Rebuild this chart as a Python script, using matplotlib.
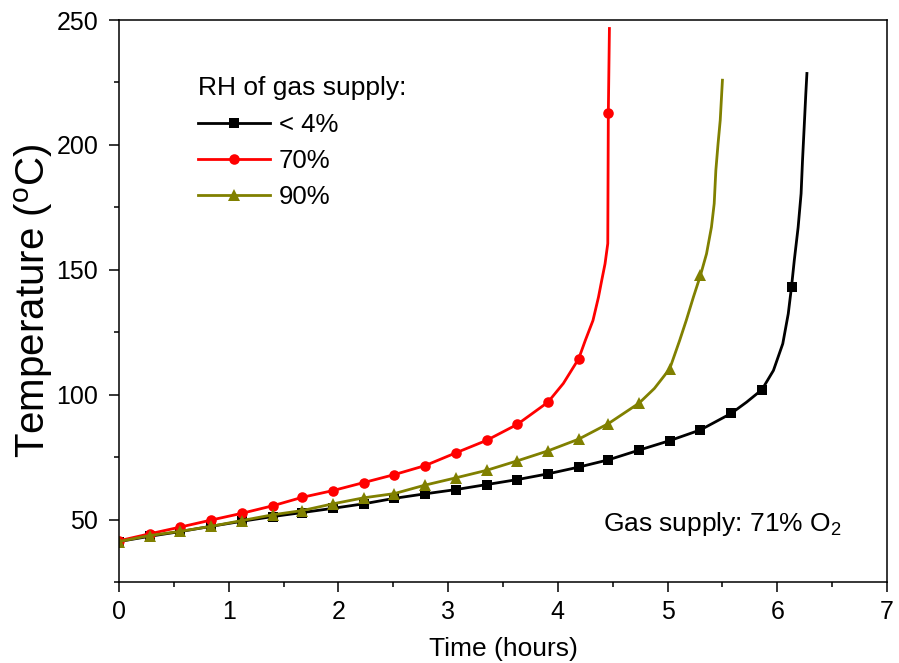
import numpy as np
import matplotlib
matplotlib.use("Agg")
import matplotlib.pyplot as plt
from matplotlib.ticker import MultipleLocator

plt.rcParams["font.family"] = ["Liberation Sans", "DejaVu Sans"]
plt.rcParams["mathtext.fontset"] = "custom"
plt.rcParams["mathtext.rm"] = "Liberation Sans"
plt.rcParams["mathtext.it"] = "Liberation Sans"
plt.rcParams["mathtext.bf"] = "Liberation Sans"

# Sampling times of the plotted symbols (hours)
time_marks = [0.00, 0.28, 0.56, 0.84, 1.12, 1.40, 1.67, 1.95, 2.23, 2.51,
              2.79, 3.07, 3.35, 3.63, 3.91, 4.19, 4.46, 4.74, 5.02, 5.30,
              5.58, 5.86, 6.13]

# Temperature at the symbol times (deg C)
temp_dry = [41.2, 43.3, 45.2, 47.3, 49.3, 51.2, 52.8, 54.5, 56.3, 58.5,
            60.3, 62.0, 64.0, 66.0, 68.3, 71.0, 73.9, 77.8, 81.6, 85.9,
            92.5, 102.0, 143.3]
temp_rh70 = [41.5, 44.3, 47.0, 49.8, 52.5, 55.5, 58.9, 61.6, 64.8, 68.0,
             71.6, 76.7, 81.7, 88.1, 97.0, 114.4, 212.9]
temp_rh90 = [41.2, 43.6, 45.3, 47.3, 49.6, 51.9, 53.6, 56.3, 58.7, 60.4,
             63.8, 66.7, 69.7, 73.5, 77.5, 82.2, 88.4, 96.6, 110.4, 147.8]

# Additional recorded points between symbols (thermal runaway region)
extra_dry_t = [5.72, 5.965, 6.05, 6.10, 6.155, 6.19, 6.217, 6.23, 6.245,
               6.26, 6.27]
extra_dry_T = [97.0, 109.7, 120.4, 132.4, 153.8, 167.0, 180.5, 193.8,
               207.0, 220.5, 228.6]
extra_rh70_t = [4.05, 4.25, 4.32, 4.37, 4.40, 4.43, 4.455, 4.47]
extra_rh70_T = [104.5, 121.7, 129.7, 139.0, 145.8, 152.4, 160.5, 246.6]
extra_rh90_t = [4.88, 5.11, 5.17, 5.235, 5.355, 5.40, 5.425, 5.44, 5.46,
                5.48, 5.50]
extra_rh90_T = [102.5, 121.7, 129.7, 139.0, 156.4, 167.1, 176.5, 189.8,
                200.4, 209.9, 225.9]

labels = ["< 4%", "70%", "90%"]
colors = ["#000000", "#FF0000", "#808000"]
markers = ["s", "o", "^"]
msizes = [6.8, 7.6, 9.0]


def merge(tm, Tm, te, Te):
    t = np.concatenate([tm, te])
    T = np.concatenate([Tm, Te])
    order = np.argsort(t, kind="stable")
    is_mark = np.concatenate([np.ones(len(tm), bool), np.zeros(len(te), bool)])[order]
    return t[order], T[order], list(np.nonzero(is_mark)[0])


fig = plt.figure(figsize=(8.99, 6.63), dpi=100)
ax = fig.add_axes([119 / 899, 1 - 582 / 663, (887 - 119) / 899, (582 - 20) / 663])

series = [
    (temp_dry, extra_dry_t, extra_dry_T),
    (temp_rh70, extra_rh70_t, extra_rh70_T),
    (temp_rh90, extra_rh90_t, extra_rh90_T),
]
for (vals, et, eT), lab, c, m, ms in zip(series, labels, colors, markers, msizes):
    t, T, idx = merge(time_marks[:len(vals)], vals, et, eT)
    ax.plot(t, T, color=c, lw=2.0, marker=m, ms=ms, markevery=idx,
            markeredgewidth=0, label=lab)

ax.set_xlim(0, 7)
ax.set_ylim(25, 250)
ax.xaxis.set_major_locator(MultipleLocator(1))
ax.xaxis.set_minor_locator(MultipleLocator(0.5))
ax.yaxis.set_major_locator(MultipleLocator(50))
ax.yaxis.set_minor_locator(MultipleLocator(25))
ax.tick_params(which="both", direction="out", width=1.1, labelsize=18,
               top=False, right=False)
ax.tick_params(axis="y", which="major", length=7, pad=8)
ax.tick_params(axis="x", which="major", length=7, pad=6)
ax.tick_params(which="minor", length=3.5)
for s in ax.spines.values():
    s.set_linewidth(1.1)

ax.set_xlabel("Time (hours)", fontsize=19, labelpad=9)
ax.set_ylabel(r"Temperature ($^{\mathrm{o}}$C)", fontsize=29, labelpad=1)

leg = ax.legend(title="RH of gas supply:", loc="upper left",
                bbox_to_anchor=(0.103, 0.90), frameon=False, fontsize=18.5,
                title_fontsize=19, handlelength=2.8, handletextpad=0.35,
                labelspacing=0.48, alignment="left", borderaxespad=0,
                borderpad=0)

ax.text(4.41, 45.6, r"Gas supply: 71% O$_2$", fontsize=19, ha="left",
        va="baseline")

fig.savefig("out.png", dpi=100)
